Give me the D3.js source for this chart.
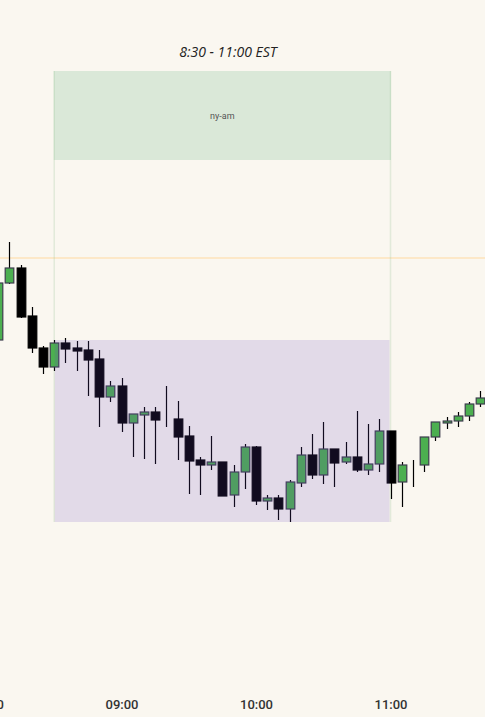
<!DOCTYPE html>
<html>
<head>
<meta charset="utf-8">
<script src="https://cdn.jsdelivr.net/npm/d3@7"></script>
<style>
  html, body { margin: 0; padding: 0; background: #faf7f0; }
  #chart { width: 485px; height: 717px; overflow: hidden; }
</style>
</head>
<body>
<div id="chart"></div>
<script>
// 5 minute bars
var times  = ["08:05","08:10","08:15","08:20","08:25","08:30","08:35","08:40","08:45","08:50","08:55",
              "09:00","09:05","09:10","09:15","09:20","09:25","09:30","09:35","09:40","09:45","09:50","09:55",
              "10:00","10:05","10:10","10:15","10:20","10:25","10:30","10:35","10:40","10:45","10:50","10:55",
              "11:00","11:05","11:10","11:15","11:20","11:25","11:30","11:35","11:40"];
var opens  = [5265,5279.25,5283,5271,5263,5258.25,5264.25,5263,5262.5,5260.25,5250.75,
              5253.5,5244.25,5246.25,5247,5245.25,5245.25,5241,5235,5233.75,5234.5,5226.25,5232,
              5238.25,5224.75,5225.5,5222.75,5229.25,5236.25,5231.25,5237.75,5234.5,5235.75,5232.5,5234,
              5242.25,5229.5,5233.75,5233.75,5240.75,5244.25,5244.75,5246,5249];
var highs  = [5279.75,5289.5,5283.75,5273.25,5263.5,5265,5265.5,5264.75,5264.75,5262.5,5254.75,
              5255.5,5246.5,5248.25,5248.25,5253.5,5249.75,5243.5,5235.75,5241,5234.5,5233.75,5239,
              5238.5,5226.25,5226.25,5230,5238.25,5241.5,5244.5,5237.75,5239.5,5247.25,5244,5245.25,
              5242.25,5234.5,5235,5240.75,5244.5,5245.75,5247,5249.5,5252.25];
var lows   = [5264.5,5279,5270.5,5261.75,5256.5,5257.25,5259.25,5257.25,5251,5243.25,5249.5,
              5242,5235.75,5235.25,5234,5243.25,5235,5226.5,5226.25,5232.5,5226,5223.25,5227.75,
              5223.75,5222.5,5220,5219.5,5228.25,5230.25,5229,5228.25,5234,5232,5231.25,5232,
              5225.25,5223.25,5228.25,5232,5239.75,5242.75,5243.25,5244.75,5248.25];
var closes = [5279.25,5283,5270.75,5263,5258.25,5264.25,5262.75,5262.25,5260,5250.75,5253.5,
              5244.25,5246.5,5247,5245,5245.25,5240.75,5234.75,5233.75,5234.5,5226,5232,5238.25,
              5224.75,5225.5,5222.75,5229.5,5236.25,5231.25,5237.75,5234.25,5235.75,5232.5,5234,5242.25,
              5229.25,5233.75,5233.75,5240.75,5244.5,5244.75,5246,5249,5250.5];

var tickLabels = ["08:00","09:00","10:00","11:00"];
var sessionName = "ny-am";
var sessionTitle = "8:30 - 11:00 EST";
var sessionStart = "08:30", sessionEnd = "11:00";
var sessionHigh = 5265, sessionLow = 5219.5;
var refLevel = 5285.5;

var width = 485, height = 717;
var parse = d3.timeParse("%H:%M");

var bars = times.map(function(t, i) {
  return { t: parse(t), o: opens[i], h: highs[i], l: lows[i], c: closes[i] };
});

var svg = d3.select("#chart")
            .append("svg")
            .attr("width", width)
            .attr("height", height);

svg.append("rect")
   .attr("width", width)
   .attr("height", height)
   .attr("fill", "#faf7f0");

// scales
var x = d3.scaleTime()
          .domain([parse("08:00"), parse("12:00")])
          .range([-13, 525]);

var y = d3.scaleLinear()
          .domain([5200, 5350])
          .range([600, 0]);

var bodyW = 8.6;

// reference level
svg.append("line")
   .attr("x1", 0).attr("x2", width)
   .attr("y1", y(refLevel)).attr("y2", y(refLevel))
   .attr("stroke", "#ffd9a0")
   .attr("stroke-width", 1);

var sx0 = x(parse(sessionStart)), sx1 = x(parse(sessionEnd));

// session label band
svg.append("rect")
   .attr("x", sx0 - 0.5)
   .attr("y", 71)
   .attr("width", sx1 - sx0 + 1)
   .attr("height", 89)
   .attr("fill", "#dae8d8");

svg.selectAll(".sline")
   .data([sx0, sx1])
   .enter()
   .append("line")
   .attr("class", "sline")
   .attr("x1", function(d) { return d; })
   .attr("x2", function(d) { return d; })
   .attr("y1", 71)
   .attr("y2", y(sessionLow))
   .attr("stroke", "rgba(140,190,140,0.22)")
   .attr("stroke-width", 1.5);

svg.append("text")
   .attr("x", (sx0 + sx1) / 2)
   .attr("y", 119)
   .attr("text-anchor", "middle")
   .attr("font-family", "Roboto, sans-serif")
   .attr("font-size", 9)
   .attr("fill", "#555")
   .text(sessionName);

svg.append("text")
   .attr("x", 228)
   .attr("y", 57)
   .attr("text-anchor", "middle")
   .attr("font-family", "'Open Sans', sans-serif")
   .attr("font-style", "italic")
   .attr("font-size", 14)
   .attr("fill", "#222")
   .text(sessionTitle);

// candles
var candle = svg.selectAll(".candle")
                .data(bars)
                .enter()
                .append("g")
                .attr("class", "candle");

candle.append("line")
      .attr("x1", function(d) { return Math.round(x(d.t)) + 0.5; })
      .attr("x2", function(d) { return Math.round(x(d.t)) + 0.5; })
      .attr("y1", function(d) { return y(d.h); })
      .attr("y2", function(d) { return y(d.l); })
      .attr("stroke", "#000")
      .attr("stroke-width", 1.2);

candle.append("rect")
      .attr("x", function(d) { return Math.round(x(d.t)) + 0.5 - bodyW / 2; })
      .attr("y", function(d) { return y(Math.max(d.o, d.c)); })
      .attr("width", bodyW)
      .attr("height", function(d) { return Math.abs(y(d.o) - y(d.c)); })
      .attr("fill", function(d) { return d.c >= d.o ? "#4caf50" : "#000"; })
      .attr("stroke", function(d) { return d.c >= d.o ? "#3d3d4d" : "#000"; })
      .attr("stroke-width", 1.2);

// session box over the bars
svg.append("rect")
   .attr("x", sx0 + 0.5)
   .attr("y", y(sessionHigh))
   .attr("width", sx1 - sx0 - 1.5)
   .attr("height", y(sessionLow) - y(sessionHigh))
   .attr("fill", "rgba(106,69,194,0.16)");

// x axis
var xAxis = d3.axisBottom(x)
              .tickValues(tickLabels.map(parse))
              .tickFormat(d3.timeFormat("%H:%M"))
              .tickSize(0)
              .tickPadding(6);

var gx = svg.append("g")
            .attr("transform", "translate(0,694)")
            .call(xAxis);

gx.select(".domain").remove();
gx.selectAll("text")
  .attr("font-family", "Roboto, sans-serif")
  .attr("font-size", 13)
  .attr("font-weight", 500)
  .attr("fill", "#333");
</script>
</body>
</html>
